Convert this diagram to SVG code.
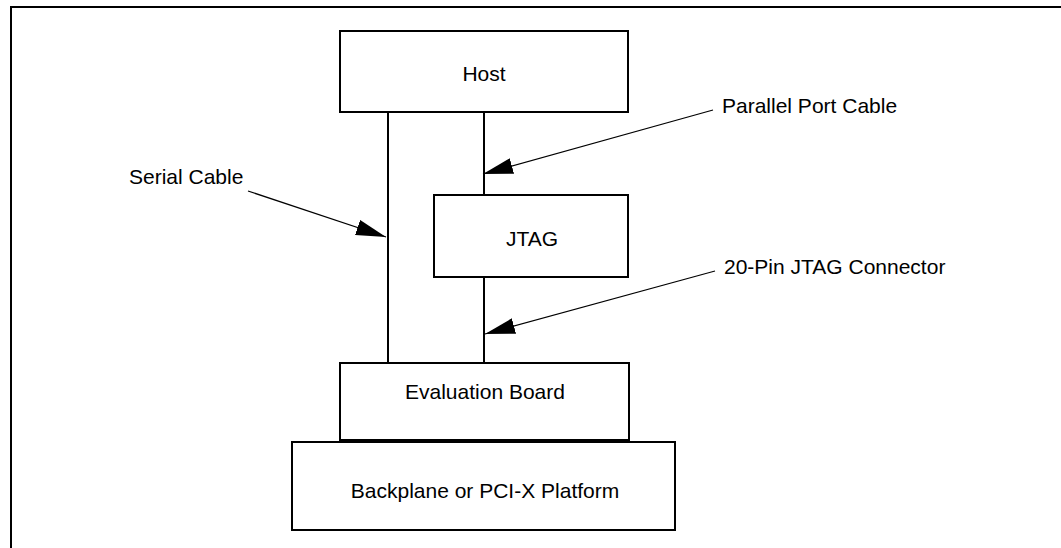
<svg xmlns="http://www.w3.org/2000/svg" width="1061" height="548" viewBox="0 0 1061 548">
<style>
.box{fill:#fff;stroke:#000;stroke-width:2}
.lbl{font-family:"Liberation Sans",Arial,sans-serif;font-size:21px;fill:#000}
.mid{text-anchor:middle}
.wire{stroke:#000;stroke-width:2;fill:none}
.lead{stroke:#000;stroke-width:1.2;fill:none}
</style>
<defs>
<marker id="ah" markerUnits="userSpaceOnUse" markerWidth="30" markerHeight="16" viewBox="0 -8 30 16" refX="30" refY="0" orient="auto">
<path d="M0,-8 L30,0 L0,8 z" fill="#000"/>
</marker>
</defs>
<path d="M11,548 V7 H1061" fill="none" stroke="#000" stroke-width="2"/>
<g id="connectors">
<line class="wire" x1="388" y1="112" x2="388" y2="366"/>
<line class="wire" x1="484" y1="112" x2="484" y2="195"/>
<line class="wire" x1="484" y1="277" x2="484" y2="363"/>
<line class="lead" x1="713" y1="110" x2="483" y2="174" marker-end="url(#ah)"/>
<line class="lead" x1="248" y1="191" x2="386" y2="237" marker-end="url(#ah)"/>
<line class="lead" x1="715" y1="271" x2="485" y2="334" marker-end="url(#ah)"/>
</g>
<g id="host">
<rect class="box" x="340" y="31" width="288" height="81"/>
<text class="lbl mid" x="484" y="81">Host</text>
</g>
<g id="jtag">
<rect class="box" x="434" y="195" width="194" height="82"/>
<text class="lbl mid" x="532" y="246">JTAG</text>
</g>
<g id="eval">
<rect class="box" x="340" y="363" width="289" height="77"/>
<text class="lbl mid" x="485" y="399">Evaluation Board</text>
</g>
<g id="backplane">
<rect class="box" x="292" y="442" width="383" height="88"/>
<text class="lbl mid" x="485" y="498">Backplane or PCI-X Platform</text>
</g>
<g id="labels">
<text class="lbl" x="129" y="184">Serial Cable</text>
<text class="lbl" x="722" y="113">Parallel Port Cable</text>
<text class="lbl" x="724" y="274">20-Pin JTAG Connector</text>
</g>
</svg>
